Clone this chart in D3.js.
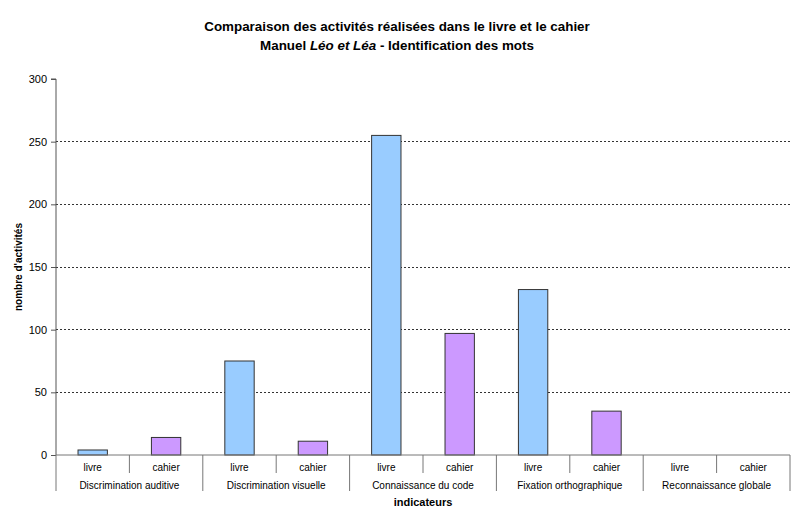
<!DOCTYPE html>
<html><head><meta charset="utf-8">
<script src="https://cdn.jsdelivr.net/npm/d3@7"></script>
<style>body{margin:0;background:#fff;} svg{display:block;font-family:"Liberation Sans",Arial,sans-serif;}</style>
</head><body>
<svg id="c" width="800" height="522"></svg>
<script>
const groups = ["Discrimination auditive","Discrimination visuelle","Connaissance du code","Fixation orthographique","Reconnaissance globale"];
const series = ["livre","cahier"];
const livre = [4, 75, 255, 132, 0];
const cahier = [14, 11, 97, 35, 0];
const yTicks = [0,50,100,150,200,250,300];
const colors = {livre:"#99CCFF", cahier:"#CC99FF"};

const svg = d3.select("#c");
const m = {l:56, r:790, t:79, b:455};
const y = d3.scaleLinear().domain([0,300]).range([m.b, m.t]);
const x0 = d3.scaleBand().domain(groups).range([m.l, m.r]);
const x1 = d3.scaleBand().domain(series).range([0, x0.bandwidth()]);

const data = [];
groups.forEach((g,i)=>{ data.push({g, s:"livre", v:livre[i]}); data.push({g, s:"cahier", v:cahier[i]}); });

// gridlines
svg.append("g").selectAll("line").data(yTicks.filter(t=>t>0 && t<300)).join("line")
  .attr("x1", m.l).attr("x2", m.r).attr("y1", d=>y(d)).attr("y2", d=>y(d))
  .attr("stroke", "#333").attr("stroke-width", 1).attr("stroke-dasharray", "2,2").attr("shape-rendering","crispEdges");

// bars
const bw = x1.bandwidth()*0.4;
svg.append("g").selectAll("rect").data(data.filter(d=>d.v>0)).join("rect")
  .attr("x", d=>x0(d.g)+x1(d.s)+(x1.bandwidth()-bw)/2)
  .attr("width", bw)
  .attr("y", d=>y(d.v)).attr("height", d=>y(0)-y(d.v))
  .attr("fill", d=>colors[d.s]).attr("stroke", "#333").attr("stroke-width", 1);

// y axis
const ya = svg.append("g").attr("transform", `translate(${m.l},0)`)
  .call(d3.axisLeft(y).tickValues(yTicks).tickSize(5).tickPadding(4));
ya.select(".domain").attr("stroke","#555").attr("d", `M-5,${y(300)}H0V${y(0)}`);
ya.selectAll(".tick line").attr("stroke","#555");
ya.selectAll("text").attr("font-size", 11).attr("fill","#000").attr("font-family","Liberation Sans, Arial, sans-serif");

// x axis line
svg.append("line").attr("x1", m.l).attr("x2", m.r).attr("y1", y(0)).attr("y2", y(0)).attr("stroke","#777");

// sub ticks & group ticks
const gx = svg.append("g");
groups.forEach(g=>{
  gx.append("line").attr("x1", x0(g)+x1("cahier")).attr("x2", x0(g)+x1("cahier"))
    .attr("y1", y(0)).attr("y2", 473).attr("stroke","#777");
});
const bounds = groups.map(g=>x0(g)).concat([x0(groups[groups.length-1])+x0.bandwidth()]);
gx.selectAll("line.gb").data(bounds).join("line").attr("class","gb")
  .attr("x1", d=>d).attr("x2", d=>d).attr("y1", y(0)).attr("y2", 491).attr("stroke","#777");

// sub labels
gx.selectAll("text.sub").data(data).join("text").attr("class","sub")
  .attr("x", d=>x0(d.g)+x1(d.s)+x1.bandwidth()/2).attr("y", 471)
  .attr("text-anchor","middle").attr("font-size", 10).attr("fill","#000").text(d=>d.s);
gx.selectAll("text.grp").data(groups).join("text").attr("class","grp")
  .attr("x", d=>x0(d)+x0.bandwidth()/2).attr("y", 489)
  .attr("text-anchor","middle").attr("font-size", 10).attr("fill","#000").text(d=>d);

// titles
svg.append("text").attr("x", 397).attr("y", 31).attr("text-anchor","middle")
  .attr("font-size", 13.4).attr("font-weight","bold").text("Comparaison des activités réalisées dans le livre et le cahier");
const t2 = svg.append("text").attr("x", 397).attr("y", 50).attr("text-anchor","middle")
  .attr("font-size", 13.4).attr("font-weight","bold");
t2.append("tspan").text("Manuel ");
t2.append("tspan").attr("font-style","italic").text("Léo et Léa");
t2.append("tspan").text("  - Identification des mots");

svg.append("text").attr("x", (m.l+m.r)/2).attr("y", 506).attr("text-anchor","middle")
  .attr("font-size", 11).attr("font-weight","bold").text("indicateurs");
svg.append("text").attr("transform", `translate(22,${(m.t+m.b)/2}) rotate(-90)`).attr("text-anchor","middle")
  .attr("font-size", 10).attr("font-weight","bold").text("nombre d'activités");
</script>
</body></html>
